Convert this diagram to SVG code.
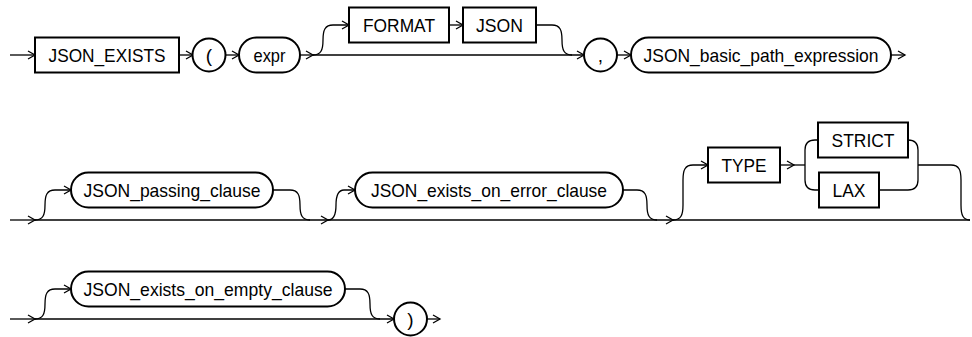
<svg xmlns="http://www.w3.org/2000/svg" width="972" height="337" viewBox="0 0 972 337">
<style>
.box{fill:#fff;stroke:#000;stroke-width:2}
.term{fill:#fff;stroke:#000;stroke-width:2}
.c{fill:none;stroke:#000;stroke-width:1.3}
text{font-family:"Liberation Sans",Arial,sans-serif;font-size:19px;fill:#000;text-anchor:middle}
</style>
<defs>
<marker id="a" markerUnits="userSpaceOnUse" markerWidth="10" markerHeight="10" refX="8" refY="5" orient="auto">
<path d="M1,1 L8,5 L1,9" fill="none" stroke="#000" stroke-width="1.3"/>
</marker>
</defs>
<g id="connectors">
<path class="c" d="M10 55 H35" marker-end="url(#a)"/>
<path class="c" d="M179 55 H193" marker-end="url(#a)"/>
<path class="c" d="M225 55 H239" marker-end="url(#a)"/>
<path class="c" d="M300 55 H313" marker-end="url(#a)"/>
<path class="c" d="M313 55 H584" marker-end="url(#a)"/>
<path class="c" d="M313 55 C321 55 323 50 323 40 C323 30 325 25 333 25 H349" marker-end="url(#a)"/>
<path class="c" d="M449 25 H463" marker-end="url(#a)"/>
<path class="c" d="M536 25 H552 C560 25 562 30 562 40 C562 50 564 55 572 55"/>
<path class="c" d="M617 55 H631" marker-end="url(#a)"/>
<path class="c" d="M891 55 H905" marker-end="url(#a)"/>
<path class="c" d="M10 220 H35" marker-end="url(#a)"/>
<path class="c" d="M35 220 H328" marker-end="url(#a)"/>
<path class="c" d="M35 220 C43 220 45 215 45 205 C45 195 47 190 55 190 H71" marker-end="url(#a)"/>
<path class="c" d="M273 190 H290 C298 190 300 195 300 205 C300 215 302 220 310 220"/>
<path class="c" d="M328 220 H673" marker-end="url(#a)"/>
<path class="c" d="M328 220 C334 220 336 215 336 205 C336 195 338 190 344 190 H355" marker-end="url(#a)"/>
<path class="c" d="M623 190 H637 C645 190 647 195 647 205 C647 215 649 220 657 220"/>
<path class="c" d="M673 220 H970"/>
<path class="c" d="M673 220 C681 220 683 215 683 205 V180 C683 170 685 165 693 165 H708" marker-end="url(#a)"/>
<path class="c" d="M780 165 H794" marker-end="url(#a)"/>
<path class="c" d="M794 165 H805"/>
<path class="c" d="M818 140 H815 Q805 140 805 150 V180 Q805 190 815 190 H819"/>
<path class="c" d="M908 140 Q918 140 918 150 V180 Q918 190 908 190 H879"/>
<path class="c" d="M918 165 H951 C959 165 961 170 961 180 V205 C961 215 963 220 970 220"/>
<path class="c" d="M10 319 H35" marker-end="url(#a)"/>
<path class="c" d="M35 319 H394" marker-end="url(#a)"/>
<path class="c" d="M35 319 C43 319 45 314 45 304 C45 294 47 289 55 289 H71" marker-end="url(#a)"/>
<path class="c" d="M345 289 H360 C368 289 370 294 370 304 C370 314 372 319 380 319"/>
<path class="c" d="M427 319 H440" marker-end="url(#a)"/>
</g>
<g id="json_exists"><rect class="box" x="35" y="37.5" width="144" height="35"/><text x="107" y="62" textLength="117" lengthAdjust="spacingAndGlyphs">JSON_EXISTS</text></g>
<g id="lparen"><circle class="term" cx="209" cy="55" r="16.5"/><text x="209" y="62">(</text></g>
<g id="expr"><rect class="term" x="239" y="37.5" width="61" height="35" rx="17.5"/><text x="269.5" y="62" textLength="32" lengthAdjust="spacingAndGlyphs">expr</text></g>
<g id="format"><rect class="box" x="349" y="7.5" width="100" height="35"/><text x="399" y="32" textLength="72" lengthAdjust="spacingAndGlyphs">FORMAT</text></g>
<g id="json"><rect class="box" x="463" y="7.5" width="73" height="35"/><text x="499.5" y="32" textLength="47" lengthAdjust="spacingAndGlyphs">JSON</text></g>
<g id="comma"><circle class="term" cx="600.5" cy="55" r="16.5"/><text x="600.5" y="62">,</text></g>
<g id="json_basic_path_expression"><rect class="term" x="631" y="37.5" width="260" height="35" rx="17.5"/><text x="761" y="62" textLength="235" lengthAdjust="spacingAndGlyphs">JSON_basic_path_expression</text></g>
<g id="json_passing_clause"><rect class="term" x="71" y="172.5" width="202" height="35" rx="17.5"/><text x="172" y="197" textLength="177" lengthAdjust="spacingAndGlyphs">JSON_passing_clause</text></g>
<g id="json_exists_on_error_clause"><rect class="term" x="355" y="172.5" width="268" height="35" rx="17.5"/><text x="489" y="197" textLength="236" lengthAdjust="spacingAndGlyphs">JSON_exists_on_error_clause</text></g>
<g id="type"><rect class="box" x="708" y="147.5" width="72" height="35"/><text x="744" y="172" textLength="45" lengthAdjust="spacingAndGlyphs">TYPE</text></g>
<g id="strict"><rect class="box" x="818" y="122.5" width="90" height="35"/><text x="863" y="147" textLength="63" lengthAdjust="spacingAndGlyphs">STRICT</text></g>
<g id="lax"><rect class="box" x="819" y="172.5" width="60" height="35"/><text x="849" y="197" textLength="33" lengthAdjust="spacingAndGlyphs">LAX</text></g>
<g id="json_exists_on_empty_clause"><rect class="term" x="71" y="271.5" width="274" height="35" rx="17.5"/><text x="208" y="296" textLength="249" lengthAdjust="spacingAndGlyphs">JSON_exists_on_empty_clause</text></g>
<g id="rparen"><circle class="term" cx="410.5" cy="319" r="16.5"/><text x="410.5" y="326">)</text></g>
</svg>
